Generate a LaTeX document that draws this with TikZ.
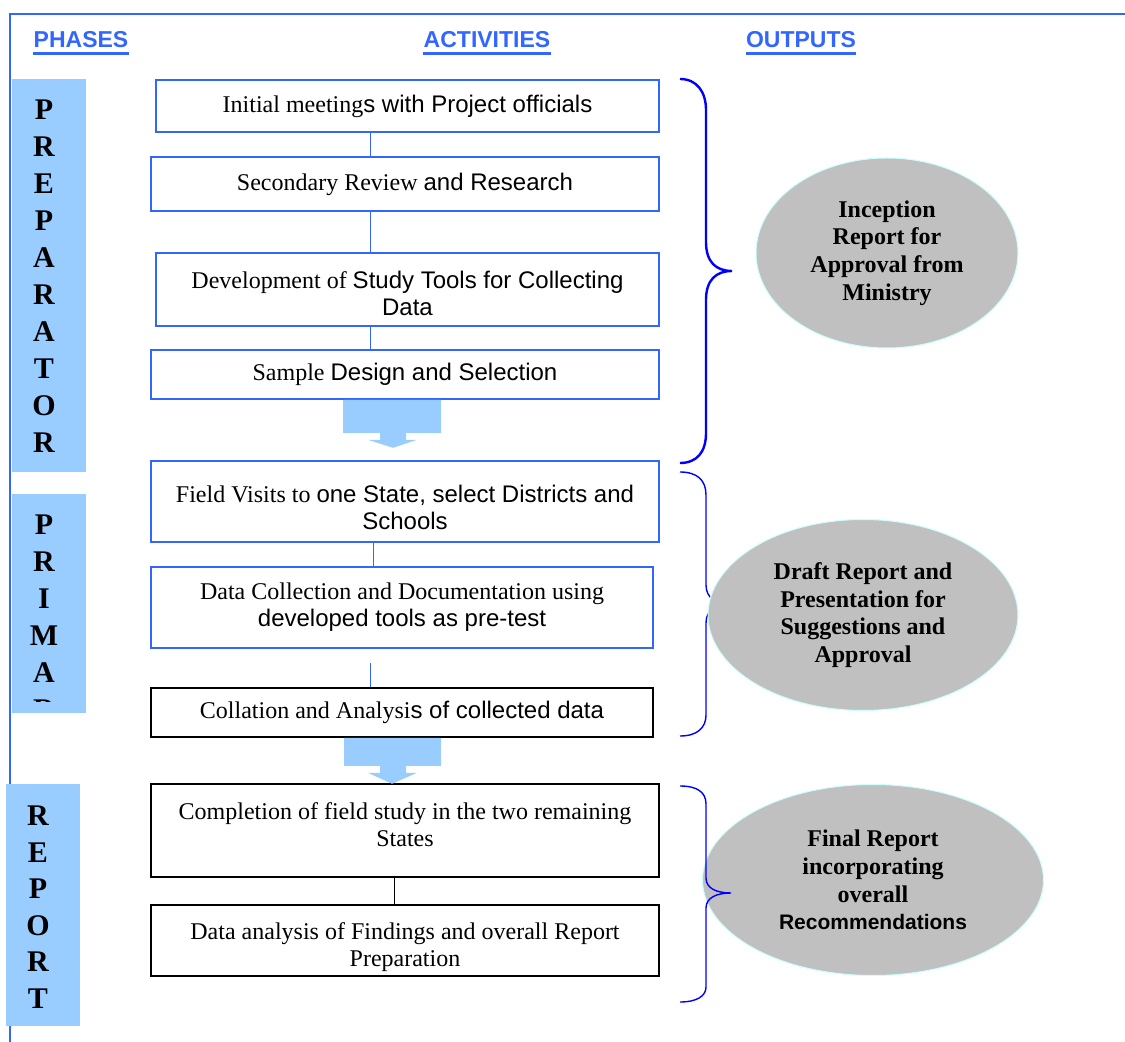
\documentclass[tikz,border=0pt]{standalone}
\usepackage{fontspec}
\setmainfont{Liberation Serif}
\setsansfont{Liberation Sans}
\usetikzlibrary{shapes.geometric}

\definecolor{frameblue}{HTML}{3366FF}
\definecolor{barblue}{HTML}{99CCFF}
\definecolor{bracketblue}{HTML}{0000FF}
\definecolor{ovalgrey}{HTML}{C0C0C0}
\definecolor{ovalrim}{HTML}{CCFFFF}

\tikzset{
  heading/.style={font=\fontsize{11.5}{13}\selectfont\sffamily\bfseries, text=frameblue, inner sep=0pt, anchor=base},
  actbox/.style={draw=frameblue, line width=0.8pt, fill=white, align=center, inner sep=0pt, font=\fontsize{12}{13.6}\selectfont},
  actboxk/.style={actbox, draw=black},
  phasebar/.style={fill=barblue, inner sep=0pt},
  phasechar/.style={font=\fontsize{15}{18}\selectfont\bfseries, inner sep=0pt, anchor=base},
  oval/.style={ellipse, fill=ovalgrey, draw=ovalrim, line width=0.5pt, align=center, inner sep=0pt, font=\fontsize{12}{13.8}\selectfont\bfseries},
  link/.style={draw=frameblue, line width=0.5pt},
  flow/.style={fill=barblue},
  bracket/.style={draw=bracketblue, line width=0.7pt},
}

\begin{document}
\begin{tikzpicture}[x=0.5pt, y=-0.5pt]
    \useasboundingbox (0,0) rectangle (1125,1042);
    \draw[frameblue, line width=0.6pt] (1125,14) -- (10,14) -- (10,1042);

    % column heads
    \node[heading] (phases) at (81,48) {PHASES};
    \node[heading] (activities) at (487,48) {ACTIVITIES};
    \node[heading] (outputs) at (801,48) {OUTPUTS};
    \draw[frameblue, line width=1.5pt] ([yshift=-2.6pt]phases.base west) -- ([yshift=-2.6pt]phases.base east);
    \draw[frameblue, line width=1.5pt] ([yshift=-2.6pt]activities.base west) -- ([yshift=-2.6pt]activities.base east);
    \draw[frameblue, line width=1.5pt] ([yshift=-2.6pt]outputs.base west) -- ([yshift=-2.6pt]outputs.base east);

    % phase bars
    \node[phasebar, minimum width=37pt, minimum height=196.5pt] (prep) at (49,275.5) {};
    \node[phasebar, minimum width=37pt, minimum height=109.5pt] (prim) at (49,603.5) {};
    \node[phasebar, minimum width=37pt, minimum height=121pt] (repo) at (43,905) {};
    \foreach \ch [count=\i] in {P,R,E,P,A,R,A,T,O,R}
        \node[phasechar] (prep-\i) at (44,{120+36.9*(\i-1)}) {\ch};
    \begin{scope}
        \clip (12,494) rectangle (86,702);
        \foreach \ch [count=\i] in {P,R,I,M,A,R}
            \node[phasechar] (prim-\i) at (44,{535+37*(\i-1)}) {\ch};
    \end{scope}
    \foreach \ch [count=\i] in {R,E,P,O,R,T}
        \node[phasechar] (repo-\i) at (38,{826+36.4*(\i-1)}) {\ch};

    % activities
    \node[actbox, minimum width=251.5pt, minimum height=26pt] (meet) at (407.5,106) {Initial meeting\textsf{s with Project officials}};
    \node[actbox, minimum width=254pt, minimum height=27pt] (review) at (405,184) {Secondary Review \textsf{and Research}};
    \node[actbox, minimum width=251.5pt, minimum height=36.5pt] (tools) at (407.5,289.5) {\rule{0pt}{12.5pt}Development of \textsf{Study Tools for Collecting}\\\textsf{Data}};
    \node[actbox, minimum width=254pt, minimum height=24.5pt] (sample) at (405,374.5) {Sample \textsf{Design and Selection}};
    \node[actbox, minimum width=254pt, minimum height=40.5pt] (visit) at (405,501.5) {\rule{0pt}{14.5pt}Field Visits to \textsf{one State, select Districts and}\\\textsf{Schools}};
    \node[actbox, minimum width=251pt, minimum height=40.5pt] (collect) at (402,607.5) {Data Collection and Documentation using\\\textsf{developed tools as pre-test}};
    \node[actboxk, minimum width=251pt, minimum height=24.5pt] (collate) at (402,712.5) {Collation and Analysi\textsf{s of collected data}};
    \node[actboxk, minimum width=254pt, minimum height=46.5pt] (complete) at (405,830.5) {Completion of field study in the two remaining\\States\rule[-6pt]{0pt}{0pt}};
    \node[actboxk, minimum width=254pt, minimum height=35.5pt] (analyse) at (405,940.5) {\rule{0pt}{15pt}Data analysis of Findings and overall Report\\Preparation};

    \coordinate (spine) at (370,0);
    \coordinate (spine2) at (373,0);
    \coordinate (spine3) at (394,0);
    \coordinate (stub) at (370,663);
    \draw[link] (meet.south -| spine) -- (review.north -| spine);
    \draw[link] (review.south -| spine) -- (tools.north -| spine);
    \draw[link] (tools.south -| spine) -- (sample.north -| spine);
    \draw[link] (visit.south -| spine2) -- (collect.north -| spine2);
    \draw[link] (stub) -- (collate.north -| stub);
    \draw[link, draw=black] (complete.south -| spine3) -- (analyse.north -| spine3);

    % block arrows between phases
    \fill[flow, shift={(sample.south)}] (-62,0) -- (36,0) -- (36,33) -- (1,33) -- (1,40) -- (12,40)
        -- (-12,48) -- (-37,40) -- (-25,40) -- (-25,33) -- (-62,33) -- cycle;
    \fill[flow, shift={(collate.south)}] (-58,0) -- (39,0) -- (39,28) -- (4,28) -- (4,35) -- (15,35)
        -- (-10,46) -- (-34,35) -- (-22,35) -- (-22,28) -- (-58,28) -- cycle;

    % outputs
    \draw[bracket, line width=1.2pt] (680,79) .. controls (697,79) and (706,92) .. (706,110) -- (706,242)
        .. controls (706,262) and (716,271) .. (732,271) .. controls (716,271) and (706,280) .. (706,300)
        -- (706,433) .. controls (706,452) and (697,463) .. (680,463);
    \node[oval, minimum width=131pt, minimum height=95pt] (incept) at (887,253) {Inception\\Report for\\Approval from\\Ministry};

    \draw[bracket] (680,472) .. controls (697,472) and (706,480) .. (706,495) -- (706,585)
        .. controls (706,598) and (716,604) .. (730,604) .. controls (716,604) and (706,610) .. (706,623)
        -- (706,715) .. controls (706,728) and (697,736) .. (680,736);
    \node[oval, minimum width=155pt, minimum height=95.5pt] (draft) at (863,615) {Draft Report and\\Presentation for\\Suggestions and\\Approval};

    \node[oval, minimum width=170.5pt, minimum height=95.5pt] (final) at (873,880) {Final Report\\incorporating\\overall\\{\sffamily\fontsize{10.5}{12}\selectfont Recommendations}};
    \draw[bracket] (680,786) .. controls (697,786) and (706,792) .. (706,804) -- (706,878)
        .. controls (706,888) and (716,893) .. (731,893) .. controls (716,893) and (706,898) .. (706,908)
        -- (706,987) .. controls (706,996) and (697,1002) .. (680,1002);
\end{tikzpicture}
\end{document}
